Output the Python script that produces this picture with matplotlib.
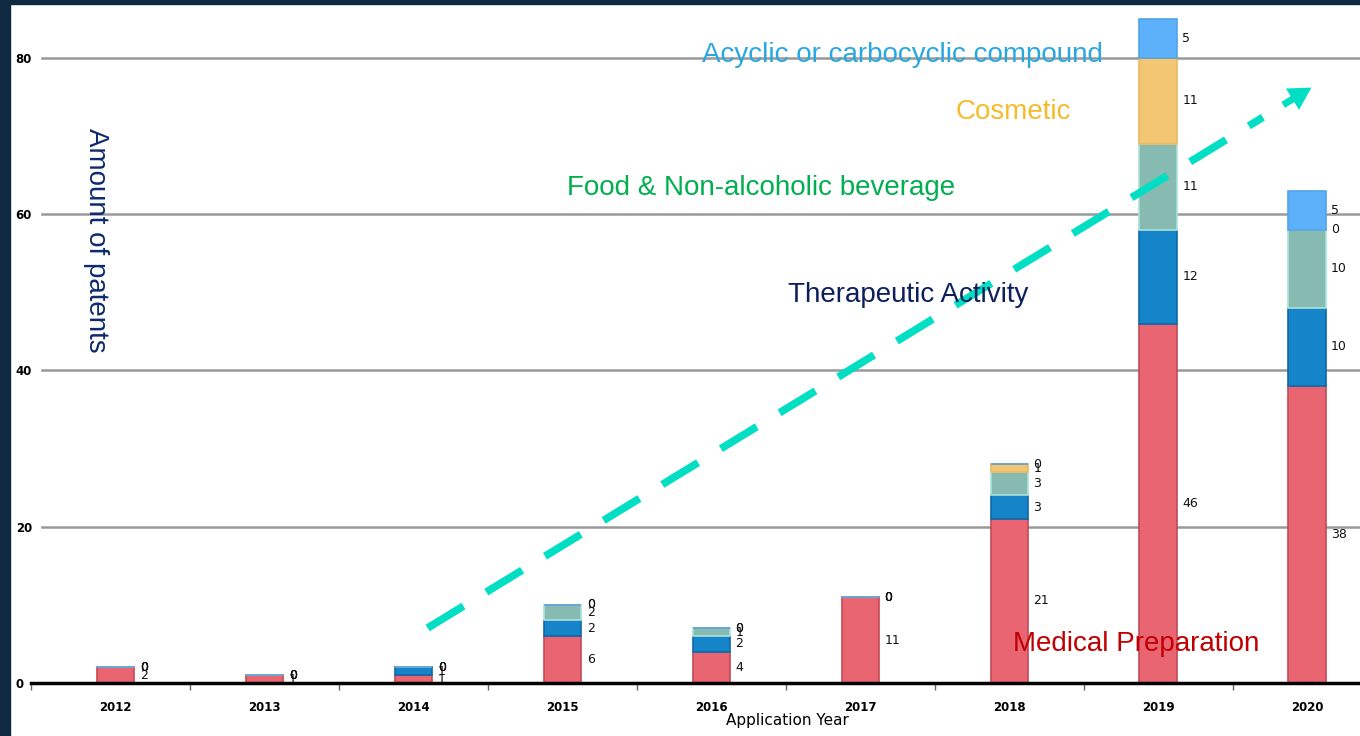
import matplotlib
matplotlib.use('Agg')
import matplotlib.pyplot as plt
from matplotlib.patches import Rectangle, FancyArrowPatch
import numpy as np

# Patent counts per application year, stacked by category
years = ['2012', '2013', '2014', '2015', '2016', '2017', '2018', '2019', '2020']
medical = [2, 1, 1, 6, 4, 11, 21, 46, 38]
therapeutic = [0, 0, 1, 2, 2, 0, 3, 12, 10]
food = [0, 0, 0, 2, 1, 0, 3, 11, 10]
cosmetic = [0, 0, 0, 0, 0, 0, 1, 11, 0]
acyclic = [0, 0, 0, 0, 0, 0, 0, 5, 5]

series = [medical, therapeutic, food, cosmetic, acyclic]
fills = ['#e96571', '#1584c9', '#87bab1', '#f3c673', '#5db1fb']
edges = ['#c24a56', '#0d6aa8', '#a8e3dc', '#e9b862', '#52a3ea']

yticks = [0, 20, 40, 60, 80]

fig = plt.figure(figsize=(13.6, 7.36), dpi=100)
fig.patch.set_facecolor('white')
navy = '#0f2a40'
fig.patches.append(Rectangle((0, 0), 10 / 1360, 1, color=navy, transform=fig.transFigure, zorder=0))
fig.patches.append(Rectangle((0, 1 - 4 / 736), 1, 4 / 736, color=navy, transform=fig.transFigure, zorder=0))

ax = fig.add_axes([31 / 1360, 53 / 736, 1329 / 1360, 672 / 736])

x = np.arange(len(years))
bottom = np.zeros(len(years))
for vals, fc, ec in zip(series, fills, edges):
    vals = np.array(vals)
    ax.bar(x, vals, width=0.25, bottom=bottom, color=fc, edgecolor=ec, linewidth=1.2, zorder=3)
    for xi, b, v in zip(x, bottom, vals):
        ax.annotate(str(v), (xi + 0.125, b + v / 2), xytext=(4, 0), textcoords='offset points',
                    ha='left', va='center', fontsize=9, color='#111111', zorder=4)
    bottom += vals

ax.set_xlim(-0.57, 8.356)
ax.set_ylim(0, 86)

# gridlines
for yv in yticks[1:]:
    ax.axhline(yv, xmin=0.008, color='#999999', lw=1.8, zorder=1)

ax.set_yticks(yticks)
ax.set_yticklabels([str(v) for v in yticks], fontsize=8.5, fontweight='bold')
for lab in ax.get_yticklabels():
    lab.set_horizontalalignment('left')
ax.tick_params(axis='y', length=0, pad=11)

ax.set_xticks(x)
ax.set_xticklabels(years, fontsize=8.5, fontweight='bold')
ax.set_xticks(np.arange(-0.5, 8.5, 1.0) + np.r_[-0.07, np.zeros(8)], minor=True)
ax.tick_params(axis='x', which='major', length=0, pad=13)
ax.tick_params(axis='x', which='minor', length=5, width=1, color='#666666')

for s in ['top', 'right', 'left']:
    ax.spines[s].set_visible(False)
ax.spines['bottom'].set_linewidth(2.5)
ax.spines['bottom'].set_zorder(5)

ax.set_xlabel('Application Year', fontsize=11)
ax.xaxis.set_label_coords((787 - 31) / 1329, -0.045)

ax.text(-0.134, 56.7, 'Amount of patents', rotation=270, ha='center', va='center',
        fontsize=20, color='#0d2a6e', family='Liberation Sans', zorder=6)

# category labels
ax.text(5.28, 80.4, 'Acyclic or carbocyclic compound', ha='center', va='center',
        fontsize=20, color='#29a8e0', family='Liberation Sans', zorder=6)
ax.text(6.03, 73.1, 'Cosmetic', ha='center', va='center',
        fontsize=20, color='#f7bb2a', family='Liberation Sans', zorder=6)
ax.text(4.33, 63.4, 'Food & Non-alcoholic beverage', ha='center', va='center',
        fontsize=20, color='#00b050', family='Liberation Sans', zorder=6)
ax.text(5.32, 49.7, 'Therapeutic Activity', ha='center', va='center',
        fontsize=20, color='#0d1f5c', family='Liberation Sans', zorder=6)
ax.text(6.85, 5.0, 'Medical Preparation', ha='center', va='center',
        fontsize=20, color='#c00000', family='Liberation Sans', zorder=6)

# dashed trend arrow
arrow_c = '#00dfc4'
x0, y0 = 2.094, 7.04
x1, y1 = 8.03, 76.2
t = 0.945
ax.plot([x0, x0 + t * (x1 - x0)], [y0, y0 + t * (y1 - y0)], color=arrow_c, lw=5.5,
        dashes=(5.5, 3.5), solid_capstyle='butt', dash_capstyle='butt', zorder=5)
head = FancyArrowPatch((x0 + 0.968 * (x1 - x0), y0 + 0.968 * (y1 - y0)), (x1, y1),
                       arrowstyle='simple,head_length=1.6,head_width=1.8,tail_width=0.5',
                       mutation_scale=10, color=arrow_c, lw=0, shrinkA=0, shrinkB=0, zorder=5)
ax.add_patch(head)

fig.savefig('out.png', dpi=100, facecolor=fig.get_facecolor())
